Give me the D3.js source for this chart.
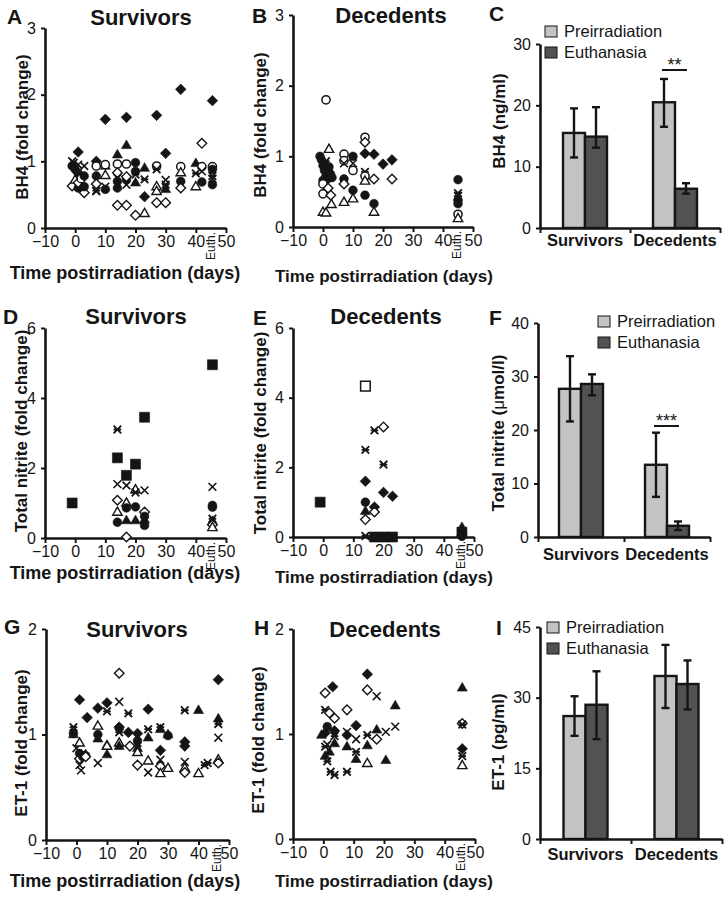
<!DOCTYPE html>
<html><head><meta charset="utf-8">
<script src="https://cdn.jsdelivr.net/npm/d3@7"></script>
<style>body{margin:0;background:#fff}</style>
</head><body><svg id="c" width="728" height="906" style="background:#fff"></svg>
<script>
// ---------------- DATA ----------------
const xTickValues = [-10, 0, 10, 20, 30, 40, 50];
const barGroups = ["Survivors", "Decedents"];
const barSeries = ["Preirradiation", "Euthanasia"];

// [day, fold change, marker]
const bh4Survivors = [
  [-1,1.00,"x"],[-1,0.93,"fc"],[-1,0.63,"od"],[-0.5,0.98,"a"],
  [0,0.88,"fc"],[0,0.72,"ot"],[1,1.14,"fd"],[1,0.82,"fc"],[1,0.60,"fc"],[1,0.68,"od"],[1,0.95,"x"],[2,0.74,"oc"],
  [3,0.78,"fc"],[3,0.53,"od"],[3,0.62,"fc"],[3,0.93,"x"],
  [7,1.00,"fd"],[7,0.78,"fc"],[7,0.93,"oc"],[7,0.56,"a"],[7,0.66,"od"],[7,0.55,"x"],
  [10,1.63,"fd"],[10,0.93,"ft"],[10,0.95,"oc"],[10,0.79,"ot"],[10,0.58,"fc"],[10,0.62,"x"],
  [14,1.10,"ft"],[14,0.96,"oc"],[14,0.83,"od"],[14,0.75,"x"],[14,0.60,"fc"],[14,0.70,"fc"],[14,0.34,"od"],
  [17,1.24,"ft"],[17,1.66,"fd"],[17,0.96,"oc"],[17,0.72,"fc"],[17,0.77,"od"],[17,0.65,"x"],[17,0.34,"od"],
  [20,0.98,"fc"],[20,0.85,"fc"],[20,0.80,"a"],[20,0.68,"ft"],[20,0.19,"od"],
  [23,0.90,"ft"],[23,0.73,"a"],[23,0.47,"fd"],[23,0.22,"ot"],
  [27,1.69,"fd"],[27,0.93,"oc"],[27,0.88,"a"],[27,0.62,"ot"],[27,0.55,"ot"],[27,0.38,"od"],
  [30,1.12,"fd"],[30,0.72,"x"],[30,0.58,"ft"],[30,0.65,"a"],[30,0.38,"od"],
  [35,2.08,"fd"],[35,0.92,"oc"],[35,0.83,"ot"],[35,0.70,"fc"],[35,0.60,"od"],
  [40,0.97,"ft"],[40,0.82,"a"],[40,0.62,"ot"],
  [42,1.27,"od"],[42,0.92,"oc"],[42,0.85,"x"],[42,0.69,"fc"],
  [45.5,1.91,"fd"],[45.5,0.92,"oc"],[45.5,0.88,"fc"],[45.5,0.78,"a"],[45.5,0.74,"x"],[45.5,0.65,"fc"]
];
const bh4Decedents = [
  [1,1.80,"oc"],
  [-1,1.00,"fc"],[-0.5,0.95,"fc"],[0,0.87,"fc"],[0.5,0.80,"fc"],[1,0.72,"fc"],[1.5,0.68,"fc"],[2,0.85,"fc"],[2.5,0.75,"fc"],[0,0.66,"fc"],[3,0.70,"fc"],[1,0.93,"a"],[0.5,0.90,"x"],
  [2,1.10,"ot"],[0,0.61,"oc"],[0,0.47,"oc"],[1.7,0.55,"od"],[2.6,0.45,"od"],[0,0.21,"ot"],[1,0.20,"ot"],[2.8,0.32,"ot"],
  [7,1.03,"oc"],[7,0.94,"oc"],[7,0.90,"x"],[7,0.68,"fc"],[7,0.61,"od"],[7,0.35,"ot"],
  [10,1.00,"fc"],[10,0.90,"x"],[10,0.80,"oc"],[10,0.52,"fc"],[10,0.40,"ot"],
  [14,1.27,"oc"],[14,1.20,"od"],[14,1.04,"fd"],[14,0.78,"a"],[14,0.72,"oc"],[14,0.65,"ot"],[14,0.45,"fc"],
  [17,1.03,"fd"],[17,0.68,"od"],[17,0.33,"fc"],[17,0.21,"ot"],
  [20,0.89,"fd"],
  [23,0.95,"fd"],[23,0.68,"od"],
  [45,0.67,"fc"],[45,0.48,"a"],[45,0.44,"x"],[45,0.38,"fc"],[45,0.33,"fc"],[45,0.18,"oc"],[45,0.12,"ot"]
];
const nitriteSurvivors = [
  [-1,1.00,"fs"],
  [14,3.10,"a"],[14,2.29,"fs"],[14,1.54,"x"],[14,1.08,"od"],[14,0.74,"ot"],[14,0.45,"fc"],
  [17,1.79,"fs"],[17,1.50,"x"],[17,1.00,"ot"],[17,0.86,"fc"],[17,0.50,"ft"],[17,0.03,"od"],
  [20,2.11,"fs"],[20,1.38,"ot"],[20,1.30,"a"],[20,0.89,"fc"],[20,0.50,"ft"],
  [23,3.45,"fs"],[23,1.36,"x"],[23,0.74,"od"],[23,0.62,"fc"],[23,0.52,"ft"],[23,0.36,"fc"],
  [45.5,4.95,"fs"],[45.5,1.46,"x"],[45.5,0.93,"fc"],[45.5,0.88,"fc"],[45.5,0.55,"a"],[45.5,0.48,"ft"],[45.5,0.38,"od"],[45.5,0.30,"ot"]
];
const nitriteDecedents = [
  [-1,1.00,"fs"],
  [14,4.33,"os"],[14,2.50,"a"],[14,1.60,"fd"],[14,1.00,"fc"],[14,0.74,"ft"],[14,0.50,"od"],[14,0.03,"a"],
  [17,3.06,"a"],[17,0.86,"fd"],[17,0.72,"od"],[17,0.00,"fs"],
  [20,3.16,"od"],[20,2.08,"a"],[20,1.28,"fd"],[20,0.00,"fs"],
  [23,1.17,"fd"],[23,0.00,"fs"],
  [46,0.28,"ft"],[46,0.14,"fs"],[46,0.06,"fd"],[46,0.02,"fc"]
];
const et1Survivors = [
  [-1,1.07,"a"],[-1,1.00,"ft"],[-1,1.01,"fc"],
  [0,0.87,"x"],[1,1.33,"fd"],[1,0.92,"ot"],[1,0.82,"fc"],[1,0.77,"od"],[1,0.71,"x"],[1.5,0.66,"x"],
  [2,0.79,"fc"],[2,0.82,"a"],[3,0.80,"fc"],[3.5,1.16,"fd"],[3,0.79,"od"],
  [7,1.25,"fd"],[7,1.08,"ot"],[7,1.00,"fc"],[7,0.96,"ft"],[7,0.73,"x"],
  [10,1.30,"fd"],[10,1.22,"a"],[10,0.90,"ft"],[10,0.89,"ot"],[10,0.81,"ft"],
  [14,1.58,"od"],[14,1.31,"x"],[14,1.07,"fd"],[14,1.06,"fc"],[14,1.02,"a"],[14,0.92,"ot"],[14,0.89,"ft"],
  [17,1.20,"a"],[17,1.02,"fd"],[17.5,0.89,"od"],
  [20,1.01,"fd"],[20,0.94,"fc"],[20,0.92,"a"],[20,0.87,"ft"],[20,0.83,"ot"],[20,0.71,"od"],
  [23.5,1.24,"fd"],[23.5,1.05,"a"],[23.5,0.97,"ft"],[23.5,0.75,"ot"],[23.5,0.64,"x"],
  [27.5,1.07,"a"],[27.5,1.05,"ft"],[27.5,0.85,"fd"],[27.5,0.76,"x"],[27.5,0.70,"od"],[27.5,0.63,"ot"],
  [30,1.00,"ft"],[30,0.99,"fc"],[30,0.68,"ot"],
  [35.5,1.23,"a"],[35.5,0.93,"fd"],[35.5,0.89,"fd"],[35.5,0.74,"x"],[35.5,0.68,"ot"],[35.5,0.64,"od"],
  [40,1.23,"ft"],[40,0.63,"ot"],[42,0.71,"a"],[43,0.73,"a"],
  [46.5,1.52,"fd"],[46.5,1.15,"ft"],[46.5,1.10,"a"],[46.5,0.97,"x"],[46.5,0.76,"ot"],[46.5,0.73,"od"]
];
const et1Decedents = [
  [-0.6,0.99,"ft"],[0.6,1.01,"fd"],[0.6,1.39,"od"],[0.6,1.23,"a"],[0.6,0.88,"a"],[0.6,0.79,"ft"],
  [1.3,1.07,"fc"],[1.3,0.90,"x"],[1.3,0.74,"a"],[2,1.20,"od"],[2,0.83,"ft"],[2.4,0.64,"a"],
  [3.1,1.45,"fd"],[3.7,1.15,"od"],[3.7,1.03,"fd"],[3.7,0.98,"a"],[3.7,0.91,"ft"],[3.7,0.61,"a"],
  [7.8,1.23,"od"],[7.8,1.02,"x"],[7.8,0.99,"fd"],[7.8,0.88,"ft"],[7.8,0.64,"a"],
  [10.8,1.08,"fd"],[10.8,0.95,"x"],[10.8,0.83,"a"],[10.8,0.76,"ft"],
  [14.5,1.57,"fd"],[14.5,1.42,"od"],[14.5,0.99,"a"],[14.5,0.89,"ft"],[14.5,0.72,"ot"],
  [17.6,1.36,"x"],[17.6,1.04,"ft"],[17.6,0.95,"od"],
  [20.6,1.02,"x"],[20.6,0.75,"ft"],
  [23.7,1.27,"ft"],[23.7,1.07,"x"],
  [45.8,1.44,"ft"],[45.8,1.10,"od"],[45.8,1.09,"a"],[45.8,0.86,"fd"],[45.8,0.79,"a"],[45.8,0.70,"ot"]
];

// bar charts: means and [low, high] error ranges, per group (Survivors, Decedents)
const bh4Pre = [15.5, 20.5];
const bh4Euth = [14.9, 6.4];
const bh4PreErr = [[11.5, 19.5], [16.5, 24.3]];
const bh4EuthErr = [[13.1, 19.7], [5.6, 7.3]];
const nitritePre = [27.7, 13.5];
const nitriteEuth = [28.6, 2.1];
const nitritePreErr = [[21.6, 33.8], [7.5, 19.5]];
const nitriteEuthErr = [[26.5, 30.4], [1.3, 2.9]];
const et1Pre = [26.1, 34.6];
const et1Euth = [28.5, 32.9];
const et1PreErr = [[21.9, 30.3], [27.8, 41.2]];
const et1EuthErr = [[21.2, 35.6], [27.5, 37.9]];

// ---------------- DRAWING ----------------
const FONT = "'Liberation Sans', Arial, Helvetica, sans-serif";
const INK = "#151515";
const svg = d3.select("#c").attr("font-family", FONT);

const symDiamond = {draw(c, s){ c.moveTo(0,-s); c.lineTo(s,0); c.lineTo(0,s); c.lineTo(-s,0); c.closePath(); }};
const symCircle = {draw(c, s){ c.moveTo(s,0); c.arc(0,0,s,0,2*Math.PI); c.closePath(); }};
const symTri = {draw(c, s){ const h = s*1.732; c.moveTo(0,-h*0.62); c.lineTo(s,h*0.38); c.lineTo(-s,h*0.38); c.closePath(); }};
const symSquare = {draw(c, s){ c.rect(-s,-s,2*s,2*s); }};
const symX = {draw(c, s){ c.moveTo(-s,-s); c.lineTo(s,s); c.moveTo(s,-s); c.lineTo(-s,s); }};
const symAst = {draw(c, s){ c.moveTo(-s,-s); c.lineTo(s,s); c.moveTo(s,-s); c.lineTo(-s,s); c.moveTo(-s,0); c.lineTo(s,0); }};

const markerStyle = {
  fd: {t: symDiamond, s: 5.3, fill: INK, stroke: INK, sw: 0.6},
  od: {t: symDiamond, s: 4.8, fill: "#fff", stroke: INK, sw: 1.4},
  fc: {t: symCircle, s: 4.4, fill: INK, stroke: INK, sw: 0.5},
  oc: {t: symCircle, s: 4.1, fill: "#fff", stroke: INK, sw: 1.5},
  ft: {t: symTri, s: 5.0, fill: INK, stroke: INK, sw: 0.6},
  ot: {t: symTri, s: 4.7, fill: "#fff", stroke: INK, sw: 1.4},
  x:  {t: symX, s: 3.9, fill: "none", stroke: INK, sw: 1.6},
  a:  {t: symAst, s: 3.8, fill: "none", stroke: INK, sw: 1.8},
  fs: {t: symSquare, s: 5.0, fill: INK, stroke: INK, sw: 0.6},
  os: {t: symSquare, s: 4.8, fill: "#fff", stroke: INK, sw: 1.5}
};

function styleAxis(g, fs) {
  g.select(".domain").attr("stroke", INK).attr("stroke-width", 2.6);
  g.selectAll(".tick line").attr("stroke", INK).attr("stroke-width", 2);
  g.selectAll(".tick text").attr("fill", INK).attr("font-size", fs).attr("font-family", FONT);
}

function addText(x, y, str, size, weight, anchor, rotate) {
  const t = svg.append("text")
    .attr("font-size", size).attr("font-weight", weight || "normal")
    .attr("text-anchor", anchor || "start").attr("fill", INK);
  if (rotate) t.attr("transform", `translate(${x},${y}) rotate(-90)`);
  else t.attr("x", x).attr("y", y);
  t.text(str);
  return t;
}

function scatterPanel(c) {
  const x = d3.scaleLinear().domain([-10, 50]).range(c.xr);
  const y = d3.scaleLinear().domain([0, c.ymax]).range(c.yr);
  const gx = svg.append("g").attr("transform", `translate(0,${c.yr[0]})`)
    .call(d3.axisBottom(x).tickValues(xTickValues).tickSize(5).tickSizeOuter(0).tickPadding(3));
  styleAxis(gx, 16);
  const gy = svg.append("g").attr("transform", `translate(${c.xr[0]},0)`)
    .call(d3.axisLeft(y).tickValues(d3.range(0, c.ymax + 0.001, c.ystep)).tickSize(4).tickSizeOuter(0).tickPadding(5).tickFormat(d3.format("d")));
  styleAxis(gy, 16);
  // Euth. label
  addText(x(c.euth) + 3, c.yr[0] + 32, "Euth.", 12, "normal", "start", true);
  // points
  svg.append("g").selectAll("path").data(c.data).join("path")
    .attr("transform", d => `translate(${x(d[0])},${y(d[1])})`)
    .attr("d", d => d3.symbol().type(markerStyle[d[2]].t).size(markerStyle[d[2]].s)())
    .attr("fill", d => markerStyle[d[2]].fill)
    .attr("stroke", d => markerStyle[d[2]].stroke)
    .attr("stroke-width", d => markerStyle[d[2]].sw);
  // labels
  addText(c.letter[1], c.letter[2], c.letter[0], 21, "bold");
  addText(c.title[1], c.title[2], c.title[0], 22, "bold", "middle");
  addText(c.ylab[1], c.ylab[2], c.ylab[0], 17, "bold", "middle", true);
  addText(c.xlab[0], c.xlab[1], "Time postirradiation (days)", c.xlab[2], "bold", "middle");
}

function barPanel(c) {
  const xb = d3.scaleBand().domain(barGroups).range(c.xr);
  const xi = d3.scaleBand().domain(barSeries).range([-22, 22]);
  const y = d3.scaleLinear().domain([0, c.ymax]).range(c.yr);
  const colors = {Preirradiation: "#c3c3c3", Euthanasia: "#525252"};
  const rows = [];
  barGroups.forEach((g, i) => {
    rows.push({g, s: "Preirradiation", v: c.pre[i], e: c.preErr[i]});
    rows.push({g, s: "Euthanasia", v: c.euth[i], e: c.euthErr[i]});
  });
  const cx = d => xb(d.g) + xb.bandwidth() / 2 + xi(d.s);
  svg.append("g").selectAll("rect").data(rows).join("rect")
    .attr("x", cx).attr("width", xi.bandwidth())
    .attr("y", d => y(d.v)).attr("height", d => y(0) - y(d.v))
    .attr("fill", d => colors[d.s]).attr("stroke", INK).attr("stroke-width", 2.4);
  const eb = svg.append("g").attr("stroke", INK).attr("stroke-width", 2.4);
  rows.forEach(d => {
    const mx = cx(d) + xi.bandwidth() / 2;
    eb.append("line").attr("x1", mx).attr("x2", mx).attr("y1", y(d.e[0])).attr("y2", y(d.e[1]));
    eb.append("line").attr("x1", mx - 4).attr("x2", mx + 4).attr("y1", y(d.e[0])).attr("y2", y(d.e[0]));
    eb.append("line").attr("x1", mx - 4).attr("x2", mx + 4).attr("y1", y(d.e[1])).attr("y2", y(d.e[1]));
  });
  // axes
  const tickScale = d3.scaleLinear().domain([0, barGroups.length]).range(c.xr);
  const gx = svg.append("g").attr("transform", `translate(0,${c.yr[0]})`)
    .call(d3.axisBottom(tickScale).tickValues(d3.range(0, barGroups.length + 1)).tickSize(5).tickSizeOuter(0).tickFormat(""));
  styleAxis(gx, 16);
  const gy = svg.append("g").attr("transform", `translate(${c.xr[0]},0)`)
    .call(d3.axisLeft(y).tickValues(c.yticks).tickSize(4).tickSizeOuter(0).tickPadding(5));
  styleAxis(gy, 16);
  barGroups.forEach(g => addText(xb(g) + xb.bandwidth() / 2, c.catY, g, 16.5, "bold", "middle"));
  // legend
  barSeries.forEach((s, i) => {
    svg.append("rect").attr("x", c.leg[0]).attr("y", c.leg[1] + i * 21).attr("width", 12).attr("height", 11)
      .attr("fill", colors[s]).attr("stroke", INK).attr("stroke-width", 1);
    addText(c.leg[0] + 19, c.leg[1] + i * 21 + 11, s, 16.5, "normal");
  });
  // significance
  if (c.sig) {
    const g = barGroups[1];
    const x0 = xb(g) + xb.bandwidth() / 2 - 13, x1 = xb(g) + xb.bandwidth() / 2 + 12;
    svg.append("line").attr("x1", x0).attr("x2", x1).attr("y1", c.sig[1]).attr("y2", c.sig[1])
      .attr("stroke", INK).attr("stroke-width", 2);
    addText((x0 + x1) / 2, c.sig[1] + 1, c.sig[0], 18, "normal", "middle");
  }
  addText(c.letter[1], c.letter[2], c.letter[0], 21, "bold");
  const yl = addText(c.ylab[1], c.ylab[2], "", 17, "bold", "middle", true);
  c.ylab[0].forEach(p => yl.append("tspan").attr("font-weight", p[1]).text(p[0]));
}

// Row 1
scatterPanel({data: bh4Survivors, xr: [45, 226], yr: [228, 28], ymax: 3, ystep: 1, euth: 45.5,
  letter: ["A", 7, 24], title: ["Survivors", 141, 25], ylab: ["BH4 (fold change)", 28, 127], xlab: [125, 279, 18]});
scatterPanel({data: bh4Decedents, xr: [293, 473], yr: [227, 15], ymax: 3, ystep: 1, euth: 45,
  letter: ["B", 252, 23], title: ["Decedents", 391, 23], ylab: ["BH4 (fold change)", 266, 125], xlab: [384, 282, 17]});
barPanel({xr: [540, 720], yr: [228, 44], ymax: 30, yticks: [0, 10, 20, 30],
  pre: bh4Pre, euth: bh4Euth, preErr: bh4PreErr, euthErr: bh4EuthErr, catY: 246,
  leg: [545, 26], sig: ["**", 70], letter: ["C", 489, 21], ylab: [[["BH4 (ng/ml)", "bold"]], 505, 121]});
// Row 2
scatterPanel({data: nitriteSurvivors, xr: [45, 226], yr: [538, 328], ymax: 6, ystep: 2, euth: 45.5,
  letter: ["D", 3, 324], title: ["Survivors", 136, 324], ylab: ["Total nitrite (fold change)", 27, 431], xlab: [125, 579, 18]});
scatterPanel({data: nitriteDecedents, xr: [293, 474], yr: [537, 328], ymax: 6, ystep: 2, euth: 46,
  letter: ["E", 253, 325], title: ["Decedents", 386, 324], ylab: ["Total nitrite (fold change)", 266, 433], xlab: [384, 583, 17]});
barPanel({xr: [538, 710], yr: [537, 323], ymax: 40, yticks: [0, 10, 20, 30, 40],
  pre: nitritePre, euth: nitriteEuth, preErr: nitritePreErr, euthErr: nitriteEuthErr, catY: 560,
  leg: [598, 316], sig: ["***", 426], letter: ["F", 489, 325],
  ylab: [[["Total nitrite (", "bold"], ["\u03bc", "normal"], ["mol/l)", "bold"]], 504, 433]});
// Row 3
scatterPanel({data: et1Survivors, xr: [46, 229], yr: [840, 629], ymax: 2, ystep: 1, euth: 46.5,
  letter: ["G", 4, 634], title: ["Survivors", 137, 637], ylab: ["ET-1 (fold change)", 27, 743], xlab: [125, 887, 18]});
scatterPanel({data: et1Decedents, xr: [293, 475], yr: [839, 629], ymax: 2, ystep: 1, euth: 45.8,
  letter: ["H", 254, 635], title: ["Decedents", 385, 637], ylab: ["ET-1 (fold change)", 264, 740], xlab: [384, 887, 17]});
barPanel({xr: [540, 722], yr: [839, 627], ymax: 45, yticks: [0, 15, 30, 45],
  pre: et1Pre, euth: et1Euth, preErr: et1PreErr, euthErr: et1EuthErr, catY: 860,
  leg: [547, 622], sig: null, letter: ["I", 496, 635], ylab: [[["ET-1 (pg/ml)", "bold"]], 504, 742]});
</script>
</body></html>
